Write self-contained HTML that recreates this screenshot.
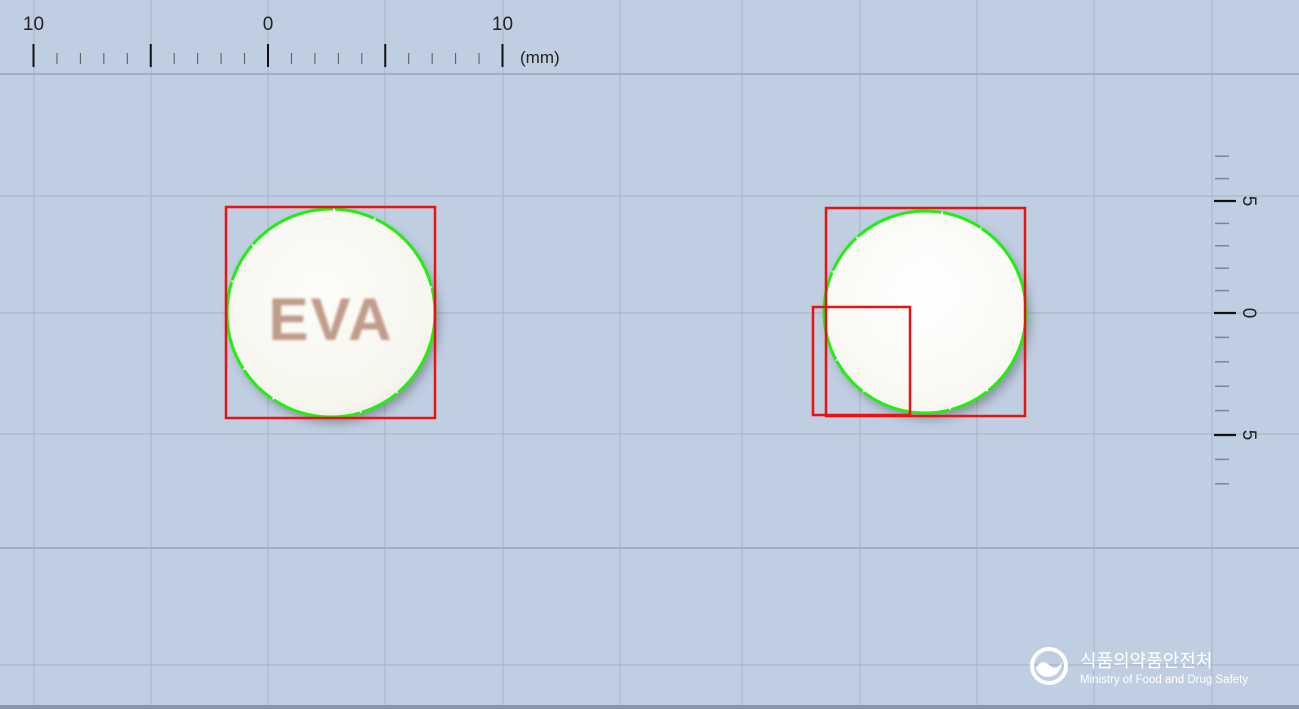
<!DOCTYPE html>
<html><head><meta charset="utf-8"><style>
html,body{margin:0;padding:0;width:1299px;height:709px;overflow:hidden;background:#bfcfe1}
svg{display:block}
text{font-family:"Liberation Sans","Noto Sans CJK KR",sans-serif}
</style></head><body>
<svg width="1299" height="709" viewBox="0 0 1299 709">
<defs>
<radialGradient id="pillL" cx="0.45" cy="0.4" r="0.7"><stop offset="0" stop-color="#fdfdf9"/><stop offset="0.8" stop-color="#f6f5ee"/><stop offset="1" stop-color="#e6e4da"/></radialGradient>
<radialGradient id="pillR" cx="0.5" cy="0.4" r="0.7"><stop offset="0" stop-color="#ffffff"/><stop offset="0.8" stop-color="#f9f8f3"/><stop offset="1" stop-color="#e9e7de"/></radialGradient>
<filter id="sh" x="-20%" y="-20%" width="140%" height="140%"><feDropShadow dx="4" dy="6" stdDeviation="5" flood-color="#445" flood-opacity="0.45"/></filter>
<filter id="bl"><feGaussianBlur stdDeviation="1.2"/></filter>
</defs>
<rect width="1299" height="709" fill="#bfcfe1"/>
<g id="grid" stroke="#a9b8ca" stroke-width="1.2"></g>
<g id="ruler"></g>
<g id="vruler"></g>
<g>
<circle cx="331" cy="313" r="104" fill="url(#pillL)" filter="url(#sh)"/>
<text x="331" y="340" text-anchor="middle" font-size="60" font-weight="bold" fill="#bf9c8c" letter-spacing="2" filter="url(#bl)">EVA</text>
<circle cx="331" cy="313" r="104" fill="none" stroke="#22ee11" stroke-width="3" stroke-dasharray="90 2 40 2"/>
<rect x="226" y="207" width="209" height="211" fill="none" stroke="#ee1111" stroke-width="2.5"/>
</g>
<g>
<circle cx="925" cy="312" r="101" fill="url(#pillR)" filter="url(#sh)"/>
<circle cx="925" cy="312" r="101" fill="none" stroke="#22ee11" stroke-width="3" stroke-dasharray="90 2 40 2"/>
<rect x="826" y="208" width="199" height="208" fill="none" stroke="#ee1111" stroke-width="2.5"/>
<rect x="813" y="307" width="97" height="108" fill="none" stroke="#ee1111" stroke-width="2.5"/>
</g>
<g>
<circle cx="1049" cy="666" r="17" fill="none" stroke="#fff" stroke-width="4"/>
<path d="M1036 668 q6 -10 13 -3 q7 7 13 -3 q-2 14 -13 15 q-10 0 -13 -9z" fill="#fff"/>
<text x="1080" y="667" font-size="18" fill="#fff">식품의약품안전처</text>
<text x="1080" y="683" font-size="11.5" fill="#fff">Ministry of Food and Drug Safety</text>
</g>
<rect x="0" y="705" width="1299" height="4" fill="#8796ab"/>
</svg>
<script>
const NS='http://www.w3.org/2000/svg';
function mk(p,t,a){const e=document.createElementNS(NS,t);for(const k in a)e.setAttribute(k,a[k]);p.appendChild(e);return e;}
const grid=document.getElementById('grid');
const vx=[34,151,268,385,503,620,742,860,977,1094,1212];
const hy=[74,196,313,434,548,665];
vx.forEach(x=>{const l=mk(grid,'line',{x1:x,y1:0,x2:x,y2:709});});
hy.forEach(y=>{const l=mk(grid,'line',{x1:0,y1:y,x2:1299,y2:y,'stroke-width':(y==74||y==548)?2:1.2,stroke:(y==74||y==548)?'#9fafc3':'#a9b8ca'});});
const ruler=document.getElementById('ruler');
const tickLabels=['10','0','10'];
const x0=268,mm=23.45;
for(let i=-10;i<=10;i++){const x=x0+i*mm;const maj=i%5==0;
 const l=mk(ruler,'line',{x1:x,y1:maj?44:53,x2:x,y2:maj?67:64,stroke:maj?'#111':'#555','stroke-width':maj?2:1});
 }
tickLabels.forEach((s,i)=>{const t=mk(ruler,'text',{x:x0+(i-1)*10*mm,y:30,'text-anchor':'middle','font-size':19,fill:'#222'});t.textContent=s;});
const u=mk(ruler,'text',{x:520,y:63,'font-size':17,fill:'#222'});u.textContent='(mm)';

const vr=document.getElementById('vruler');
const vLabels=['5','0','5'];const y0=313;
function vy(i){return y0+i*(i<0?22.4:24.4);}
for(let i=-7;i<=7;i++){const y=vy(i);const maj=i%5==0;
 const l=mk(vr,'line',{x1:maj?1214:1215,y1:y,x2:maj?1236:1229,y2:y,stroke:maj?'#111':'#7a8797','stroke-width':maj?2.2:1.5});
 }
vLabels.forEach((s,i)=>{const y=vy((i-1)*5);const t=mk(vr,'text',{x:1250,y:y,'text-anchor':'middle','font-size':19,fill:'#222',transform:`rotate(90 1250 ${y}) translate(0 7)`});t.textContent=s;});
</script>
</body></html>
